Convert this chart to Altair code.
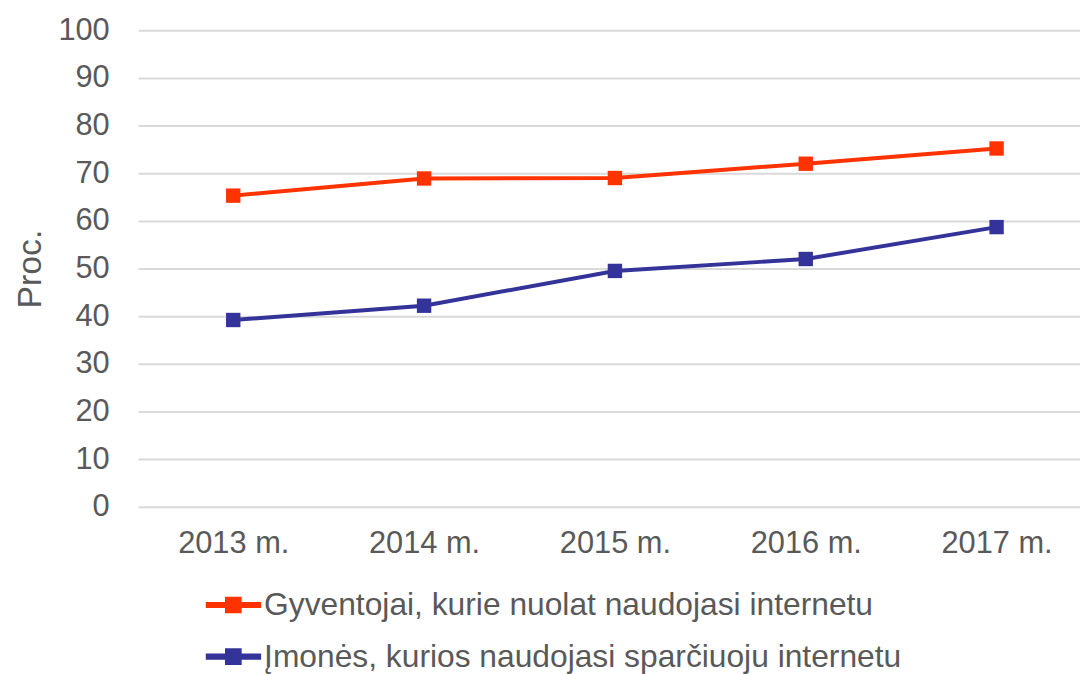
import altair as alt
import pandas as pd

years = ["2013 m.", "2014 m.", "2015 m.", "2016 m.", "2017 m."]
series_names = [
    "Gyventojai, kurie nuolat naudojasi internetu",
    "Įmonės, kurios naudojasi sparčiuoju internetu",
]
gyventojai = [65.3, 68.9, 69.0, 72.0, 75.2]
imones = [39.2, 42.2, 49.5, 52.0, 58.7]
colors = ["#FF3300", "#333399"]

rows = []
for y, v in zip(years, gyventojai):
    rows.append({"Metai": y, "Serija": series_names[0], "Reikšmė": v})
for y, v in zip(years, imones):
    rows.append({"Metai": y, "Serija": series_names[1], "Reikšmė": v})
df = pd.DataFrame(rows)

FONT = "Liberation Sans"
TXT = "#595959"

legend_symbol = "M-1,-0.11H1V0.11H-1Z M-0.3,-0.3H0.3V0.3H-0.3Z"

base = alt.Chart(df).encode(
    x=alt.X("Metai:N", sort=years, title=None,
            scale=alt.Scale(type="point", padding=0.468, align=0.533),
            axis=alt.Axis(labelAngle=0, labelFontSize=31, labelColor=TXT,
                          labelFont=FONT, labelPadding=22, ticks=False,
                          domain=False, grid=False)),
    y=alt.Y("Reikšmė:Q", title="Proc.",
            scale=alt.Scale(domain=[0, 100], nice=False),
            axis=alt.Axis(values=list(range(0, 101, 10)), labelFontSize=31,
                          labelColor=TXT, labelFont=FONT, labelPadding=29,
                          ticks=False, domain=False, grid=True,
                          gridColor="#D9D9D9", gridWidth=2,
                          titleFontSize=34, titleFont=FONT, titleColor=TXT,
                          titleFontWeight="normal", titlePadding=11)),
    color=alt.Color("Serija:N", sort=series_names,
                    scale=alt.Scale(domain=series_names, range=colors),
                    legend=alt.Legend(title=None, orient="none",
                                      legendX=68, legendY=553,
                                      symbolType=legend_symbol,
                                      symbolSize=3136, symbolStrokeWidth=0,
                                      symbolOpacity=1,
                                      labelFontSize=32, labelColor=TXT,
                                      labelFont=FONT, labelOffset=3,
                                      clipHeight=52, rowPadding=0,
                                      padding=0, labelLimit=900)),
)

lines = base.mark_line(strokeWidth=4)
points = base.mark_point(shape="square", filled=True, size=210, opacity=1)

chart = (lines + points).properties(
    width=949, height=480,
    autosize=alt.AutoSizeParams(type="none"),
    padding={"left": 131, "top": 20, "right": 0, "bottom": 166},
).configure_view(stroke=None)

chart.save("out.html", embed_options={"renderer": "svg", "actions": False})
